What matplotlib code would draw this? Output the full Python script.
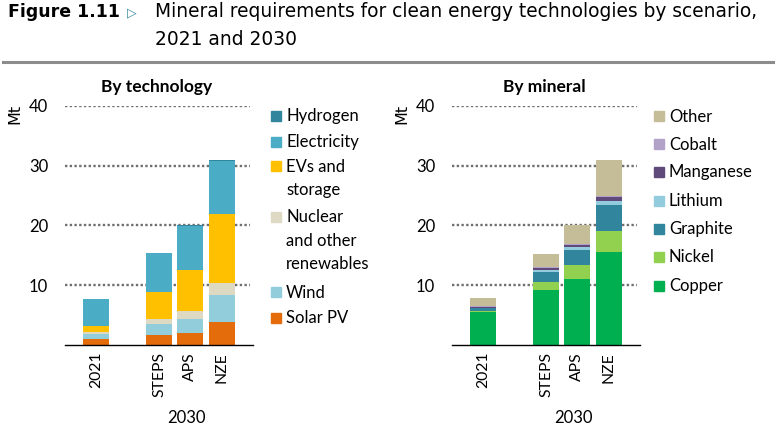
import matplotlib
matplotlib.use("Agg")
import matplotlib.pyplot as plt
from matplotlib.patches import Rectangle
from matplotlib.lines import Line2D
import numpy as np

W, H = 776, 434

# ---- data (Mt) ----
scenarios = ["2021", "STEPS", "APS", "NZE"]
xpos = [0, 2, 3, 4]

# by technology (bottom -> top)
solar_pv = [1.0, 1.75, 2.0, 3.85]
wind = [0.9, 1.7, 2.35, 4.55]
nuclear_other = [0.35, 0.9, 1.35, 1.9]
evs_storage = [1.0, 4.55, 6.8, 11.6]
electricity = [4.5, 6.45, 7.5, 8.95]
hydrogen = [0.0, 0.0, 0.05, 0.05]

# by mineral (bottom -> top)
copper = [5.5, 9.2, 11.1, 15.6]
nickel = [0.2, 1.4, 2.25, 3.45]
graphite = [0.45, 1.65, 2.5, 4.45]
lithium = [0.1, 0.3, 0.5, 0.6]
manganese = [0.1, 0.3, 0.45, 0.6]
cobalt = [0.1, 0.15, 0.15, 0.25]
other = [1.35, 2.3, 3.1, 5.95]

tech_series = [
    ("Solar PV", solar_pv, "#E46C0A"),
    ("Wind", wind, "#92CDDC"),
    ("Nuclear\nand other\nrenewables", nuclear_other, "#DDD9C3"),
    ("EVs and\nstorage", evs_storage, "#FFC000"),
    ("Electricity", electricity, "#4BACC6"),
    ("Hydrogen", hydrogen, "#31859C"),
]
mineral_series = [
    ("Copper", copper, "#00B050"),
    ("Nickel", nickel, "#92D050"),
    ("Graphite", graphite, "#31859C"),
    ("Lithium", lithium, "#93CDDD"),
    ("Manganese", manganese, "#604A7B"),
    ("Cobalt", cobalt, "#B3A2C7"),
    ("Other", other, "#C4BD97"),
]

fig = plt.figure(figsize=(W / 100, H / 100), dpi=100)


def fx(x):
    return x / W


def fy(y):
    return 1 - y / H


def panel(left_px, series, subtitle, legend_x, legend_ys):
    ax = fig.add_axes([fx(left_px), fy(345), 188 / W, (345 - 106) / H])
    bottom = np.zeros(len(xpos))
    for name, vals, col in series:
        ax.bar(xpos, vals, width=0.83, bottom=bottom, color=col, linewidth=0)
        bottom += np.array(vals)
    for v in [10, 20, 30, 40]:
        ax.axhline(v, color="#6f6f6f", linestyle=(0, (1, 1)), linewidth=1.7,
                   zorder=0, xmax=0.985)
    ax.set_xlim(-1, 5)
    ax.set_ylim(0, 40)
    for s in ["top", "right", "left"]:
        ax.spines[s].set_visible(False)
    ax.spines["bottom"].set_color("black")
    ax.spines["bottom"].set_linewidth(1.0)
    ax.set_yticks([10, 20, 30, 40])
    ax.set_yticklabels(["10", "20", "30", "40"], fontsize=12, family="Lato")
    ax.tick_params(axis="y", length=0, pad=12)
    ax.set_xticks(xpos)
    ax.set_xticklabels(scenarios, rotation=90, fontsize=11.3, family="Lato",
                       va="top")
    ax.tick_params(axis="x", length=0, pad=5)
    fig.text(fx(left_px - 50), fy(114), "Mt", rotation=90, fontsize=11.5,
             ha="center", va="center", family="DejaVu Sans")
    fig.text(fx(left_px + 121.5), fy(423), "2030", ha="center", va="baseline",
             fontsize=12, family="Lato")
    fig.text(fx(left_px + 92), fy(92), subtitle, ha="center", va="baseline",
             fontsize=12.5, fontweight="bold", family="Lato")
    # legend (top -> bottom)
    for (name, vals, col), y in zip(series[::-1], legend_ys):
        fig.patches.append(Rectangle((fx(legend_x), fy(y + 5)), 10 / W, 10 / H,
                                     transform=fig.transFigure, color=col))
        fig.text(fx(legend_x + 15), fy(y + 5.5), name.split("\n")[0], ha="left",
                 va="baseline", fontsize=12, family="Lato")
        for k, line in enumerate(name.split("\n")[1:], start=1):
            fig.text(fx(legend_x + 15), fy(y + 5.5 + 23.5 * k), line, ha="left",
                     va="baseline", fontsize=12, family="Lato")
    return ax


panel(65, tech_series, "By technology", 271,
      [116, 141.5, 166, 216.5, 292, 317.5])
panel(452, mineral_series, "By mineral", 654,
      [116, 144, 172, 201, 229, 257, 286])

# title
fig.text(fx(8), fy(17), "Figure 1.11", fontsize=12.5, fontweight="bold",
         family="DejaVu Sans", va="baseline")
fig.text(fx(127), fy(16), "\u25B7", fontsize=9, color="#31859C",
         family="DejaVu Sans", va="baseline", fontweight="bold")
fig.text(fx(155), fy(17), "Mineral requirements for clean energy technologies by scenario,",
         fontsize=13.4, family="DejaVu Sans", va="baseline")
fig.text(fx(155), fy(45), "2021 and 2030", fontsize=13.4, family="DejaVu Sans",
         va="baseline")
fig.add_artist(Line2D([fx(3), fx(773)], [fy(62), fy(62)], color="#8c8c8c",
                      linewidth=2.2, transform=fig.transFigure))

fig.savefig("out.png", dpi=100)
